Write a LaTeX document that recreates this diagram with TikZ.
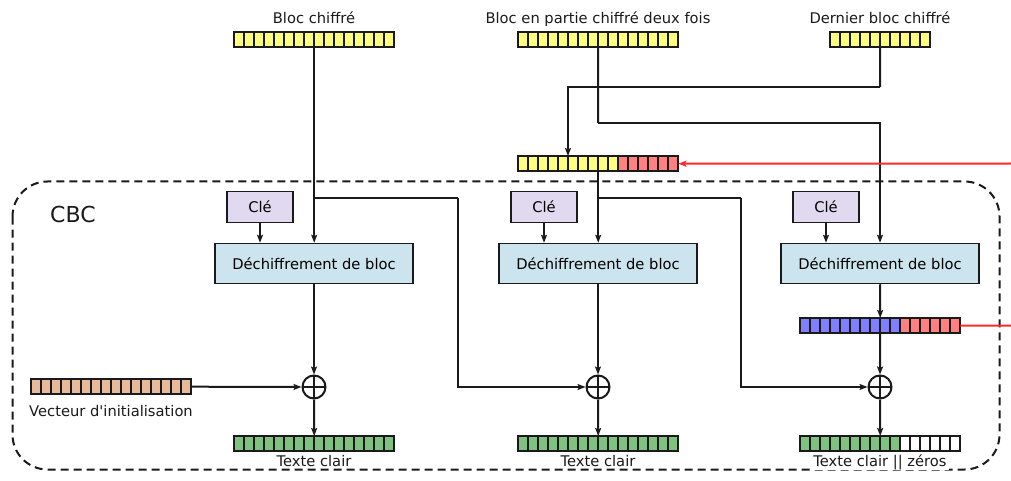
\documentclass[tikz,border=0pt]{standalone}
\usepackage{fontspec}
\setmainfont{DejaVu Sans}[Ligatures=TeXOff]
\usetikzlibrary{arrows.meta,calc}
\definecolor{cyel}{HTML}{FFFF80}
\definecolor{cred}{HTML}{FF8080}
\definecolor{cblue}{HTML}{8080FF}
\definecolor{cgreen}{HTML}{80C080}
\definecolor{ctan}{HTML}{E8BA9C}
\definecolor{ckey}{HTML}{E1D9EF}
\definecolor{cdec}{HTML}{CCE4EE}
\definecolor{cline}{HTML}{1A1A1A}
\definecolor{credline}{HTML}{FF2A2A}
\tikzset{
  cellst/.style={draw=cline,line width=1.3pt},
  conn/.style={draw=cline,line width=2pt},
  arr/.style={conn,-{Stealth[length=8pt,width=6pt,inset=1.5pt]}},
  redarr/.style={draw=credline,line width=2pt,-{Stealth[length=8pt,width=6pt,inset=1.5pt]}},
  redline/.style={draw=credline,line width=2pt},
  keyst/.style={draw=cline,line width=1.5pt,fill=ckey,minimum width=66pt,minimum height=31pt,inner sep=0pt,font=\fontsize{14.7}{17}\selectfont},
  decst/.style={draw=cline,line width=1.5pt,fill=cdec,minimum width=198pt,minimum height=40pt,inner sep=0pt,font=\fontsize{14.7}{17}\selectfont},
  xorst/.style={circle,draw=cline,line width=2pt,minimum size=23pt,inner sep=0pt,
    path picture={\draw[cline,line width=2pt] (path picture bounding box.north) -- (path picture bounding box.south)
      (path picture bounding box.west) -- (path picture bounding box.east);}},
  lbl/.style={font=\fontsize{14.7}{17}\selectfont,inner sep=0pt,anchor=base,text=cline},
  botlbl/.style={lbl,fill=white,inner xsep=2pt,inner ysep=1pt},
  cbox/.style={draw=cline,line width=2pt,dash pattern=on 8pt off 5pt,rounded corners=35pt}
}
\newcommand\cellrow[7]{%
  \foreach \i in {1,...,#4}{%
    \ifnum\i>#5\relax\def\cc{#7}\else\def\cc{#6}\fi
    \draw[cellst,fill=\cc] ({#2+10*(\i-1)},#3) rectangle ++(10,15);}
  \node[inner sep=0pt,minimum width=#4*10,minimum height=15,anchor=north west] (#1) at (#2,#3) {};}
\begin{document}
\begin{tikzpicture}[x=1pt,y=-1pt]
\useasboundingbox (0,0) rectangle (1011,481);
% CBC frame
\draw[cbox] (12.5,181.5) rectangle (999.5,469.5);
\node[font=\fontsize{22}{26}\selectfont,inner sep=0pt,anchor=base west,text=cline] (cbc) at (50,222) {CBC};
% blocks
\cellrow{top1}{234}{32}{16}{16}{cyel}{cyel}
\cellrow{top2}{518}{32}{16}{16}{cyel}{cyel}
\cellrow{top3}{830}{32}{10}{10}{cyel}{cyel}
\cellrow{mix}{518}{156}{16}{10}{cyel}{cred}
\cellrow{blue}{800}{318}{16}{10}{cblue}{cred}
\cellrow{iv}{31}{379}{16}{16}{ctan}{ctan}
\cellrow{bot1}{234}{436}{16}{16}{cgreen}{cgreen}
\cellrow{bot2}{518}{436}{16}{16}{cgreen}{cgreen}
\cellrow{bot3}{800}{436}{16}{10}{cgreen}{white}
% labels
\node[lbl] (l1) at (314,24) {Bloc chiffré};
\node[lbl] (l2) at (598,24) {Bloc en partie chiffré deux fois};
\node[lbl] (l3) at (880,24) {Dernier bloc chiffré};
\node[lbl] (l4) at (111,416) {Vecteur d'initialisation};
\node[botlbl] (l5) at (314,466) {Texte clair};
\node[botlbl] (l6) at (598,466) {Texte clair};
\node[botlbl] (l7) at (880,466) {Texte clair || zéros};
% key and decryption boxes
\node[keyst] (key1) at (260,207) {Clé};
\node[keyst] (key2) at (544,207) {Clé};
\node[keyst] (key3) at (826,207) {Clé};
\node[decst] (dec1) at (314,263.5) {Déchiffrement de bloc};
\node[decst] (dec2) at (598,263.5) {Déchiffrement de bloc};
\node[decst] (dec3) at (880,263.5) {Déchiffrement de bloc};
% xors
\node[xorst] (xor1) at (314,387) {};
\node[xorst] (xor2) at (598,387) {};
\node[xorst] (xor3) at (880,387) {};
% coordinates
\coordinate (b1) at (314,198);
\coordinate (c1) at (458,198);
\coordinate (b2) at (598,198);
\coordinate (c2) at (741,198);
\coordinate (t2turn) at (598,123);
\coordinate (t3turn) at (880,87);
\coordinate (mixin) at (568,156);
\coordinate (r1) at (1011,163.5);
\coordinate (r2) at (1011,325.5);
% connectors column 1
\draw[arr] (top1.south) -- (top1.south |- dec1.north);
\draw[conn] (b1) -- (c1);
\draw[arr] (c1) |- (xor2.west);
\draw[arr] (key1.south) -- (key1.south |- dec1.north);
\draw[arr] (dec1.south) -- (xor1.north);
\draw[arr] (xor1.south) -- (bot1.north);
\draw[arr] (iv.east) -- (xor1.west);
% column 2
\draw[conn] (top2.south) -- (t2turn);
\draw[arr] (t2turn) -| (dec3.north);
\draw[conn] (top3.south) -- (t3turn);
\draw[arr] (t3turn) -| (mixin);
\draw[arr] (mix.south) -- (mix.south |- dec2.north);
\draw[conn] (b2) -- (c2);
\draw[arr] (c2) |- (xor3.west);
\draw[arr] (key2.south) -- (key2.south |- dec2.north);
\draw[arr] (dec2.south) -- (xor2.north);
\draw[arr] (xor2.south) -- (bot2.north);
% column 3
\draw[arr] (key3.south) -- (key3.south |- dec3.north);
\draw[arr] (dec3.south) -- (blue.north);
\draw[arr] (blue.south) -- (xor3.north);
\draw[arr] (xor3.south) -- (bot3.north);
% red lines
\draw[redarr] (r1) -- (mix.east);
\draw[redline] (r2) -- (blue.east);
\end{tikzpicture}
\end{document}
